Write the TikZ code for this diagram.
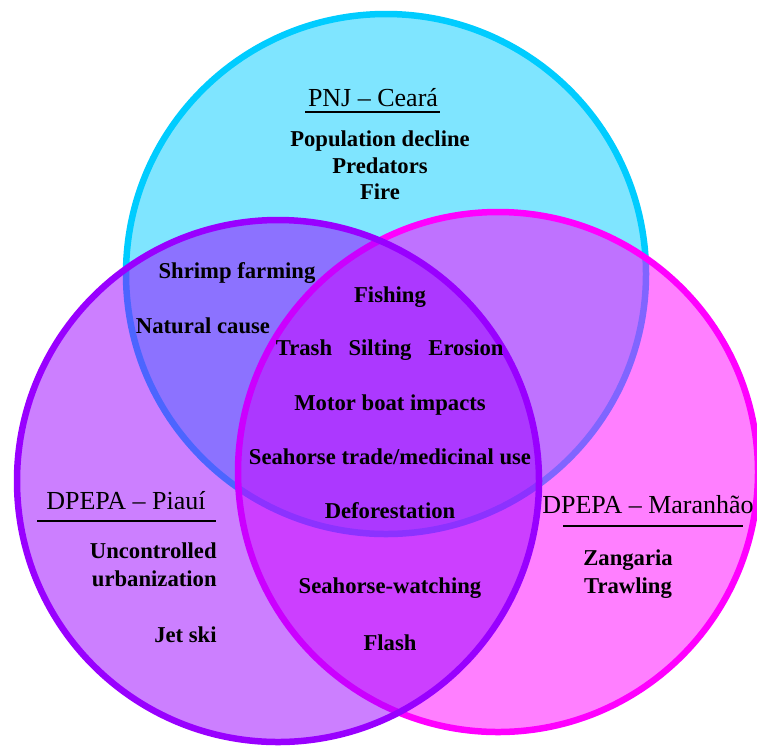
\documentclass[tikz,border=0pt]{standalone}
\usepackage{fontspec}
\setmainfont{Liberation Serif}
\usepackage{tikz}
\definecolor{pnjcyan}{HTML}{00CCFF}
\definecolor{piauipurple}{HTML}{9900FF}
\definecolor{maranhaopink}{HTML}{FF00FF}
\tikzset{
    venn/.style={line width=0.13cm, fill opacity=0.5},
    threat/.style={font=\bfseries\fontsize{12.9}{15.5}\selectfont, anchor=base, inner sep=0pt},
    sitelabel/.style={font=\fontsize{14.8}{17}\selectfont, anchor=base, inner sep=0pt},
    headrule/.style={line width=0.04cm, black}
}
\begin{document}
\begin{tikzpicture}[x=0.02cm, y=-0.02cm]
    \useasboundingbox (0,0) rectangle (757,745);

    % the three sets
    \draw[venn, draw=pnjcyan, fill=pnjcyan] (386,274) circle[radius=260];
    \draw[venn, draw=maranhaopink, fill=maranhaopink] (498,472) circle[radius=260];
    \draw[venn, draw=piauipurple, fill=piauipurple] (278,481) circle[radius=261];

    % PNJ - Ceara
    \node[sitelabel] (pnj) at (373,106) {PNJ -- Ceará};
    \draw[headrule] (305,112) -- (440,112);
    \node[threat] (decline) at (380,146) {Population decline};
    \node[threat] (predators) at (380,173) {Predators};
    \node[threat] (fire) at (380,199) {Fire};

    % PNJ and Piaui
    \node[threat] (shrimp) at (237,278) {Shrimp farming};
    \node[threat] (natural) at (203,333) {Natural cause};

    % all three
    \node[threat] (fishing) at (390,302) {Fishing};
    \node[threat] (trash) at (304,355) {Trash};
    \node[threat] (silting) at (380,355) {Silting};
    \node[threat] (erosion) at (466,355) {Erosion};
    \node[threat] (boat) at (390,410) {Motor boat impacts};
    \node[threat] (trade) at (390,464) {Seahorse trade/medicinal use};
    \node[threat] (defor) at (390,518) {Deforestation};

    % Piaui and Maranhao
    \node[threat] (watching) at (390,593) {Seahorse-watching};
    \node[threat] (flash) at (390,650) {Flash};

    % DPEPA - Piaui
    \node[sitelabel] (piaui) at (126,509) {DPEPA -- Piauí};
    \draw[headrule] (37,521) -- (216,521);
    \node[threat, anchor=base east] (uncontrolled) at (217,558) {Uncontrolled};
    \node[threat, anchor=base east] (urbanization) at (217,586) {urbanization};
    \node[threat, anchor=base east] (jetski) at (217,642) {Jet ski};

    % DPEPA - Maranhao
    \node[sitelabel, anchor=base west] (maranhao) at (542,513) {DPEPA -- Maranhão};
    \draw[headrule] (563,526) -- (743,526);
    \node[threat] (zangaria) at (628,565) {Zangaria};
    \node[threat] (trawling) at (628,593) {Trawling};
\end{tikzpicture}
\end{document}
